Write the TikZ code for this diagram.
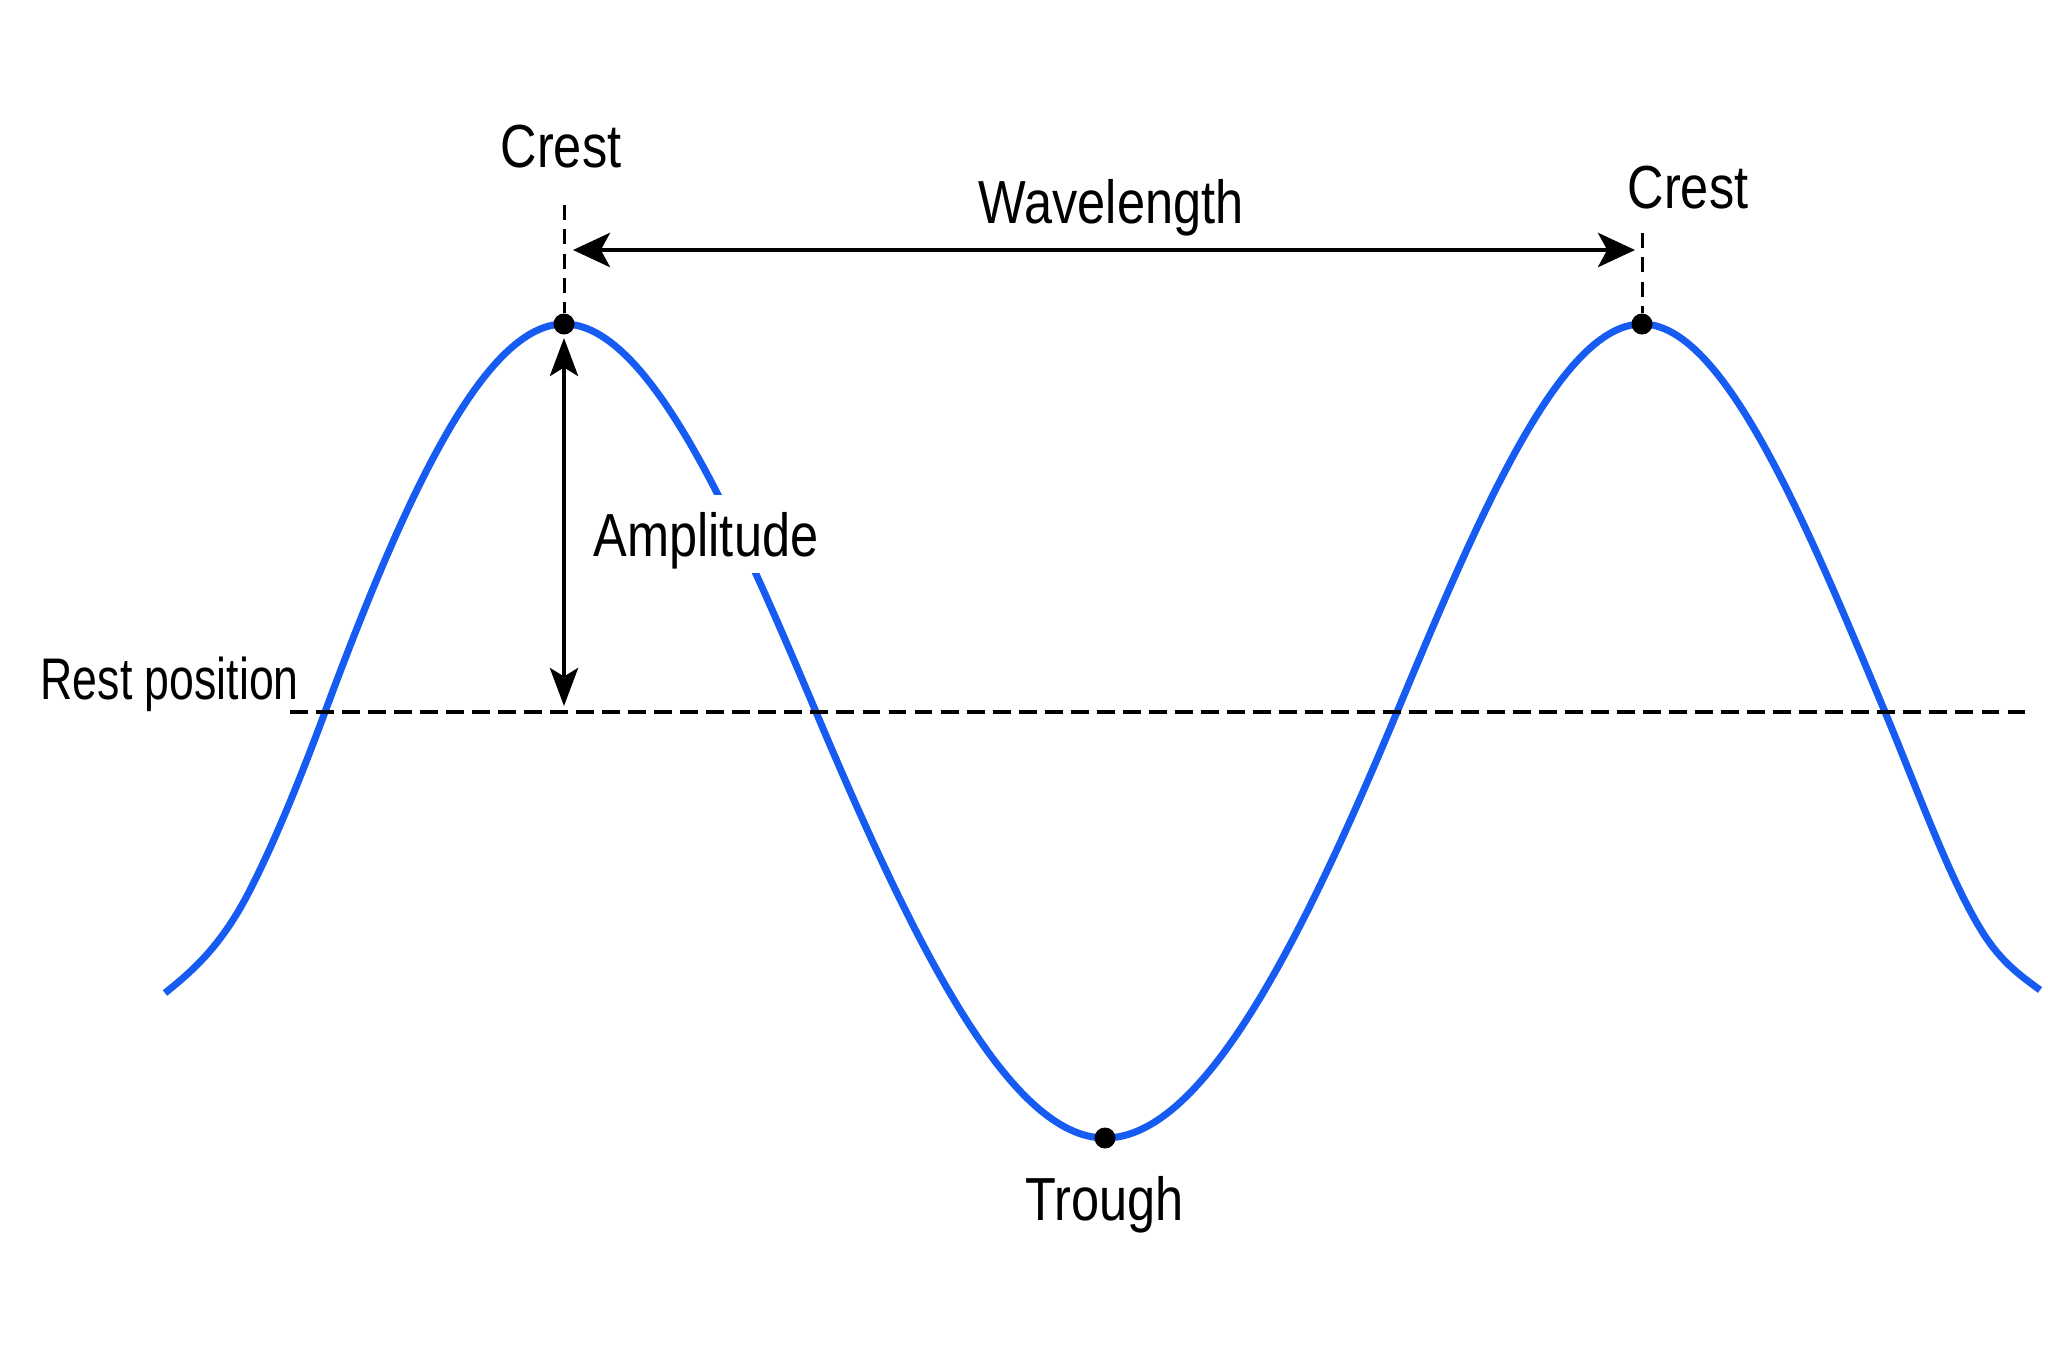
\documentclass[tikz,border=0pt]{standalone}
\usepackage{fontspec}
\setmainfont{Liberation Sans}[FakeStretch=0.83]
\newfontfamily\restfont{Liberation Sans}[FakeStretch=0.76]
\usetikzlibrary{arrows.meta,positioning}
\definecolor{waveblue}{HTML}{165CF3}

\tikzset{
  lbl/.style={inner sep=0pt, anchor=base, font=\fontsize{17.3}{20}\selectfont},
  dot/.style={circle, fill=black, inner sep=0pt, minimum size=0.21cm},
  guide/.style={black, line width=0.85pt, dash pattern=on 4.3pt off 2.6pt},
  restline/.style={black, line width=1.35pt, dash pattern=on 5.1pt off 2.3pt},
  wavearrow/.style={black, line width=1.4pt,
    {Stealth[length=10.5pt,width=9.7pt,inset=2.6pt]}-{Stealth[length=10.5pt,width=9.7pt,inset=2.6pt]}},
  amparrow/.style={black, line width=1.15pt,
    {Stealth[length=10.8pt,width=8pt,inset=2.4pt]}-{Stealth[length=10.8pt,width=8pt,inset=2.4pt]}},
  wave/.style={waveblue, line width=2pt, line join=round},
}

\begin{document}
\begin{tikzpicture}[x=0.01cm, y=-0.01cm]
  \useasboundingbox[fill=white] (0,0) rectangle (2048,1360);

  % Wave
  \draw[wave] (165,993)
    .. controls (193.3,970.3) and (221.7,945.5) .. (250,890)
    .. controls (275,841) and (300,779.5) .. (325,712)
    .. controls (404.7,496.9) and (484.3,324) .. (564,324)
    .. controls (648,324) and (732,512.9) .. (816,712)
    .. controls (912.3,940.3) and (1008.7,1138) .. (1105,1138)
    .. controls (1202.3,1138) and (1299.7,945.6) .. (1397,712)
    .. controls (1478.7,516) and (1560.3,324) .. (1642,324)
    .. controls (1723,324) and (1804,517.6) .. (1885,712)
    .. controls (1917.7,790.4) and (1950.3,881.4) .. (1983,933)
    .. controls (2002,963) and (2021,975.9) .. (2040,990);

  % Rest position
  \coordinate (restL) at (290,712);
  \coordinate (restR) at (2026,712);
  \draw[restline] (restL) -- (restR);
  \node[lbl, anchor=base west, font=\restfont\fontsize{16.7}{20}\selectfont] (rest) at (40,699) {Rest position};

  % Crests and trough
  \node[dot] (crestA) at (564,324) {};
  \node[dot] (crestB) at (1642,324) {};
  \node[dot] (trough) at (1105,1138) {};
  \node[lbl] (crestAlbl) at (561,167) {Crest};
  \node[lbl] (crestBlbl) at (1688,208) {Crest};
  \node[lbl] (troughlbl) at (1105,1220) {Trough};

  % Guide lines above the crests
  \coordinate (crestAtop) at (564,205);
  \coordinate (crestBtop) at (1642,233);
  \draw[guide] (crestAtop) -- (crestA);
  \draw[guide] (crestBtop) -- (crestB);

  % Wavelength
  \coordinate (wlA) at (573,250);
  \coordinate (wlB) at (1635,250);
  \draw[wavearrow] (wlA) -- (wlB);
  \node[lbl] (wllbl) at (1111,223) {Wavelength};

  % Amplitude
  \coordinate (ampTop) at (564,338);
  \coordinate (ampFoot) at (564,706);
  \draw[amparrow] (ampTop) -- (ampFoot);
  \node[lbl, fill=white, inner xsep=0.1cm, inner ysep=0pt, text height=0.61cm, text depth=0.17cm] (amplbl) at (706,556) {Amplitude};
\end{tikzpicture}
\end{document}
